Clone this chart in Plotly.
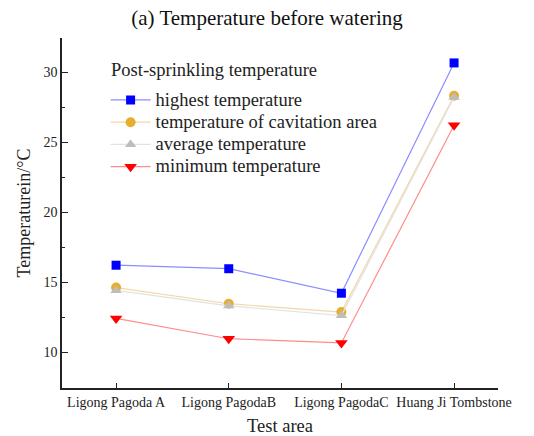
import plotly.graph_objects as go

categories = ["Ligong Pagoda A", "Ligong PagodaB", "Ligong PagodaC", "Huang Ji Tombstone"]
highest = [16.2, 15.95, 14.2, 30.65]
cavitation = [14.6, 13.45, 12.85, 28.3]
average = [14.4, 13.3, 12.6, 28.2]
minimum = [12.4, 10.95, 10.65, 26.2]
legend_title = "Post-sprinkling temperature"

series = [
    ("highest temperature", highest, "#0000FF", "#8C8CFF", "square", 9),
    ("temperature of cavitation area", cavitation, "#E8AE2E", "#F2D8A6", "circle", 10),
    ("average temperature", average, "#BDBDBD", "#E2E2E2", "triangle-up", 10),
    ("minimum temperature", minimum, "#FF0000", "#FF8C8C", "triangle-down", 11),
]

xs = list(range(len(categories)))
fig = go.Figure()
for name, vals, mc, lc, sym, sz in series:
    fig.add_trace(go.Scatter(
        x=xs, y=vals, name="<span style='font-size:18.5px'>%s</span>" % name,
        mode="lines+markers",
        line=dict(color=lc, width=1.2),
        marker=dict(color=mc, symbol=sym, size=sz, line=dict(width=0)),
    ))

font = "Liberation Serif, Times New Roman, serif"
fig.add_annotation(
    text=legend_title, xref="paper", yref="paper", x=0.108, y=0.909,
    xanchor="left", yanchor="middle", showarrow=False,
    font=dict(size=18.5, color="#222"),
)
fig.update_layout(
    width=534, height=436,
    margin=dict(l=62, r=36, t=38, b=48),
    paper_bgcolor="white", plot_bgcolor="white",
    font=dict(family=font, size=14, color="#222"),
    title=dict(text="(a) Temperature before watering", x=0.5, xanchor="center",
               y=0.96, yanchor="middle", font=dict(size=21, color="#111")),
    xaxis=dict(
        range=[-0.48, 3.39], tickvals=xs, ticktext=categories,
        showline=True, linecolor="#222", linewidth=1.5, mirror=False,
        ticks="inside", ticklen=5, tickcolor="#222", showgrid=False, zeroline=False,
        title=dict(text="Test area", font=dict(size=18.5), standoff=12),
        tickfont=dict(size=14), automargin=False,
    ),
    yaxis=dict(
        range=[7.43, 32.43], tickvals=[10, 15, 20, 25, 30],
        showline=True, linecolor="#222", linewidth=1.5, mirror=False,
        ticks="inside", ticklen=6, tickcolor="#222", showgrid=False, zeroline=False,
        minor=dict(tickvals=[12.5, 17.5, 22.5, 27.5], ticks="inside", ticklen=3, tickcolor="#222"),
        title=dict(text="Temperaturein/°C", font=dict(size=18), standoff=8),
        tickfont=dict(size=14), automargin=False,
    ),
    legend=dict(
        x=0.1, y=0.869, xanchor="left", yanchor="top",
        bgcolor="rgba(0,0,0,0)", font=dict(size=14.8),
        itemwidth=40, tracegroupgap=0,
    ),
    showlegend=True,
)

fig.write_html("out.html")
